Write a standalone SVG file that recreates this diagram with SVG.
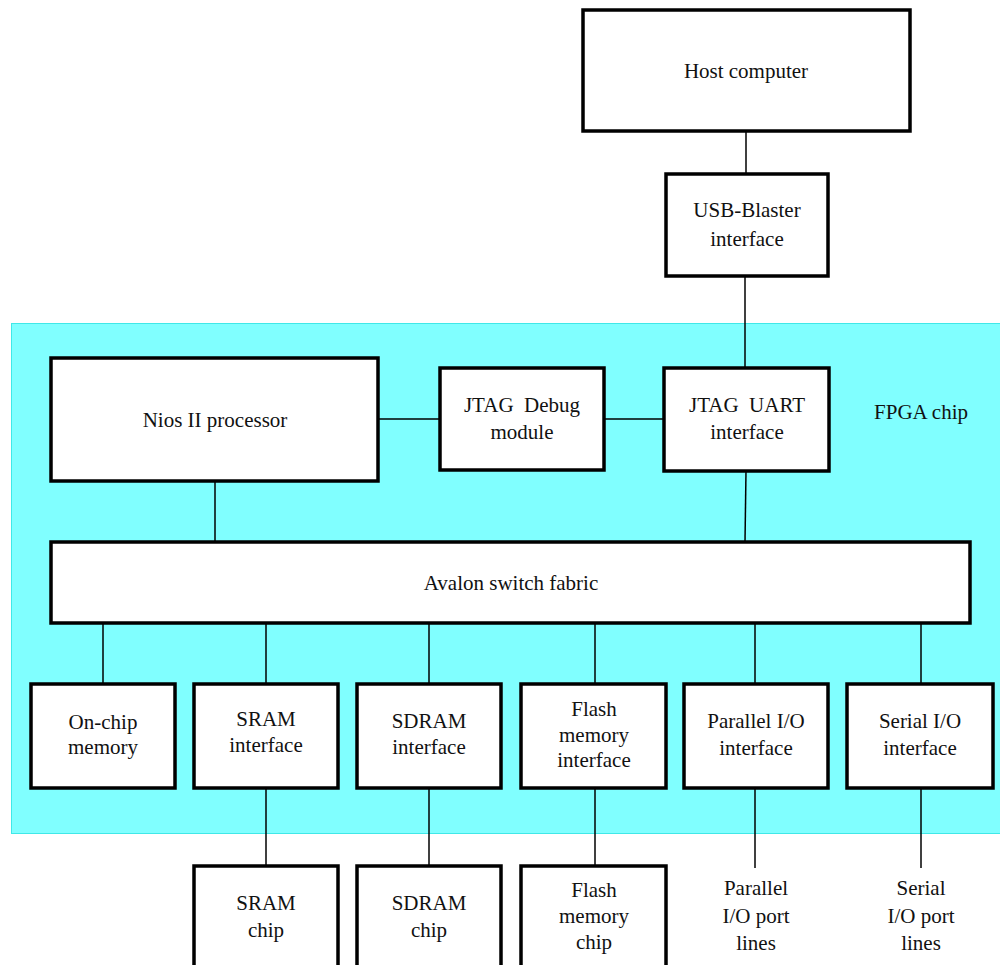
<svg xmlns="http://www.w3.org/2000/svg" width="1000" height="965" viewBox="0 0 1000 965">
<rect width="1000" height="965" fill="#fff"/>
<g id="fpga">
<rect x="11.5" y="323.5" width="995" height="510" fill="#80ffff" stroke="#40e8e8" stroke-width="1"/>
<text x="921" y="419" font-family="serif" font-size="21" text-anchor="middle" fill="#111">FPGA chip</text>
</g>
<g id="connectors" stroke="#000" stroke-width="1.5" fill="none">
<line x1="746" y1="131" x2="746" y2="174"/>
<line x1="745" y1="276" x2="745" y2="368"/>
<line x1="378" y1="419" x2="440" y2="419"/>
<line x1="604" y1="419" x2="664" y2="419"/>
<line x1="215" y1="481" x2="215" y2="542"/>
<line x1="746" y1="471" x2="745" y2="542"/>
<line x1="103" y1="623" x2="103" y2="684"/>
<line x1="266" y1="623" x2="266" y2="684"/>
<line x1="429" y1="623" x2="429" y2="684"/>
<line x1="595" y1="623" x2="595" y2="684"/>
<line x1="755" y1="623" x2="755" y2="684"/>
<line x1="921" y1="623" x2="921" y2="684"/>
<line x1="266" y1="788" x2="266" y2="866"/>
<line x1="429" y1="788" x2="429" y2="866"/>
<line x1="595" y1="788" x2="595" y2="866"/>
<line x1="755" y1="788" x2="755" y2="868"/>
<line x1="921" y1="788" x2="921" y2="868"/>
</g>
<g id="host"><rect x="583" y="10" width="327" height="121" fill="#fff" stroke="#000" stroke-width="3.5"/><text x="746" y="78" font-family="serif" font-size="21" text-anchor="middle" fill="#111">Host computer</text></g>
<g id="usb"><rect x="666" y="174" width="162" height="102" fill="#fff" stroke="#000" stroke-width="3.5"/><text x="747" y="217" font-family="serif" font-size="21" text-anchor="middle" fill="#111">USB-Blaster</text><text x="747" y="246" font-family="serif" font-size="21" text-anchor="middle" fill="#111">interface</text></g>
<g id="nios"><rect x="51" y="358" width="327" height="123" fill="#fff" stroke="#000" stroke-width="3.5"/><text x="215" y="427" font-family="serif" font-size="21" text-anchor="middle" fill="#111">Nios II processor</text></g>
<g id="jtagdebug"><rect x="440" y="368" width="164" height="102" fill="#fff" stroke="#000" stroke-width="3.5"/><text x="522" y="412" font-family="serif" font-size="21" text-anchor="middle" fill="#111" xml:space="preserve">JTAG  Debug</text><text x="522" y="439" font-family="serif" font-size="21" text-anchor="middle" fill="#111">module</text></g>
<g id="jtaguart"><rect x="664" y="368" width="165" height="103" fill="#fff" stroke="#000" stroke-width="3.5"/><text x="747" y="412" font-family="serif" font-size="21" text-anchor="middle" fill="#111" xml:space="preserve">JTAG  UART</text><text x="747" y="439" font-family="serif" font-size="21" text-anchor="middle" fill="#111">interface</text></g>
<g id="avalon"><rect x="51" y="542" width="919" height="81" fill="#fff" stroke="#000" stroke-width="3.5"/><text x="511" y="590" font-family="serif" font-size="21" text-anchor="middle" fill="#111">Avalon switch fabric</text></g>
<g id="onchip"><rect x="31" y="684" width="144" height="104" fill="#fff" stroke="#000" stroke-width="3.5"/><text x="103" y="729" font-family="serif" font-size="21" text-anchor="middle" fill="#111">On-chip</text><text x="103" y="754" font-family="serif" font-size="21" text-anchor="middle" fill="#111">memory</text></g>
<g id="sramif"><rect x="194" y="684" width="144" height="104" fill="#fff" stroke="#000" stroke-width="3.5"/><text x="266" y="726" font-family="serif" font-size="21" text-anchor="middle" fill="#111">SRAM</text><text x="266" y="752" font-family="serif" font-size="21" text-anchor="middle" fill="#111">interface</text></g>
<g id="sdramif"><rect x="357" y="684" width="144" height="104" fill="#fff" stroke="#000" stroke-width="3.5"/><text x="429" y="728" font-family="serif" font-size="21" text-anchor="middle" fill="#111">SDRAM</text><text x="429" y="754" font-family="serif" font-size="21" text-anchor="middle" fill="#111">interface</text></g>
<g id="flashif"><rect x="521" y="684" width="145" height="104" fill="#fff" stroke="#000" stroke-width="3.5"/><text x="594" y="716" font-family="serif" font-size="21" text-anchor="middle" fill="#111">Flash</text><text x="594" y="742" font-family="serif" font-size="21" text-anchor="middle" fill="#111">memory</text><text x="594" y="767" font-family="serif" font-size="21" text-anchor="middle" fill="#111">interface</text></g>
<g id="pioif"><rect x="684" y="684" width="144" height="104" fill="#fff" stroke="#000" stroke-width="3.5"/><text x="756" y="728" font-family="serif" font-size="21" text-anchor="middle" fill="#111">Parallel I/O</text><text x="756" y="755" font-family="serif" font-size="21" text-anchor="middle" fill="#111">interface</text></g>
<g id="sioif"><rect x="847" y="684" width="146" height="104" fill="#fff" stroke="#000" stroke-width="3.5"/><text x="920" y="728" font-family="serif" font-size="21" text-anchor="middle" fill="#111">Serial I/O</text><text x="920" y="755" font-family="serif" font-size="21" text-anchor="middle" fill="#111">interface</text></g>
<g id="sramchip"><rect x="194" y="866" width="144" height="110" fill="#fff" stroke="#000" stroke-width="3.5"/><text x="266" y="910" font-family="serif" font-size="21" text-anchor="middle" fill="#111">SRAM</text><text x="266" y="937" font-family="serif" font-size="21" text-anchor="middle" fill="#111">chip</text></g>
<g id="sdramchip"><rect x="357" y="866" width="144" height="110" fill="#fff" stroke="#000" stroke-width="3.5"/><text x="429" y="910" font-family="serif" font-size="21" text-anchor="middle" fill="#111">SDRAM</text><text x="429" y="937" font-family="serif" font-size="21" text-anchor="middle" fill="#111">chip</text></g>
<g id="flashchip"><rect x="521" y="866" width="145" height="110" fill="#fff" stroke="#000" stroke-width="3.5"/><text x="594" y="897" font-family="serif" font-size="21" text-anchor="middle" fill="#111">Flash</text><text x="594" y="923" font-family="serif" font-size="21" text-anchor="middle" fill="#111">memory</text><text x="594" y="949" font-family="serif" font-size="21" text-anchor="middle" fill="#111">chip</text></g>
<g id="piolines"><text x="756" y="895" font-family="serif" font-size="21" text-anchor="middle" fill="#111">Parallel</text><text x="756" y="923" font-family="serif" font-size="21" text-anchor="middle" fill="#111">I/O port</text><text x="756" y="950" font-family="serif" font-size="21" text-anchor="middle" fill="#111">lines</text></g>
<g id="siolines"><text x="921" y="895" font-family="serif" font-size="21" text-anchor="middle" fill="#111">Serial</text><text x="921" y="923" font-family="serif" font-size="21" text-anchor="middle" fill="#111">I/O port</text><text x="921" y="950" font-family="serif" font-size="21" text-anchor="middle" fill="#111">lines</text></g>
</svg>
